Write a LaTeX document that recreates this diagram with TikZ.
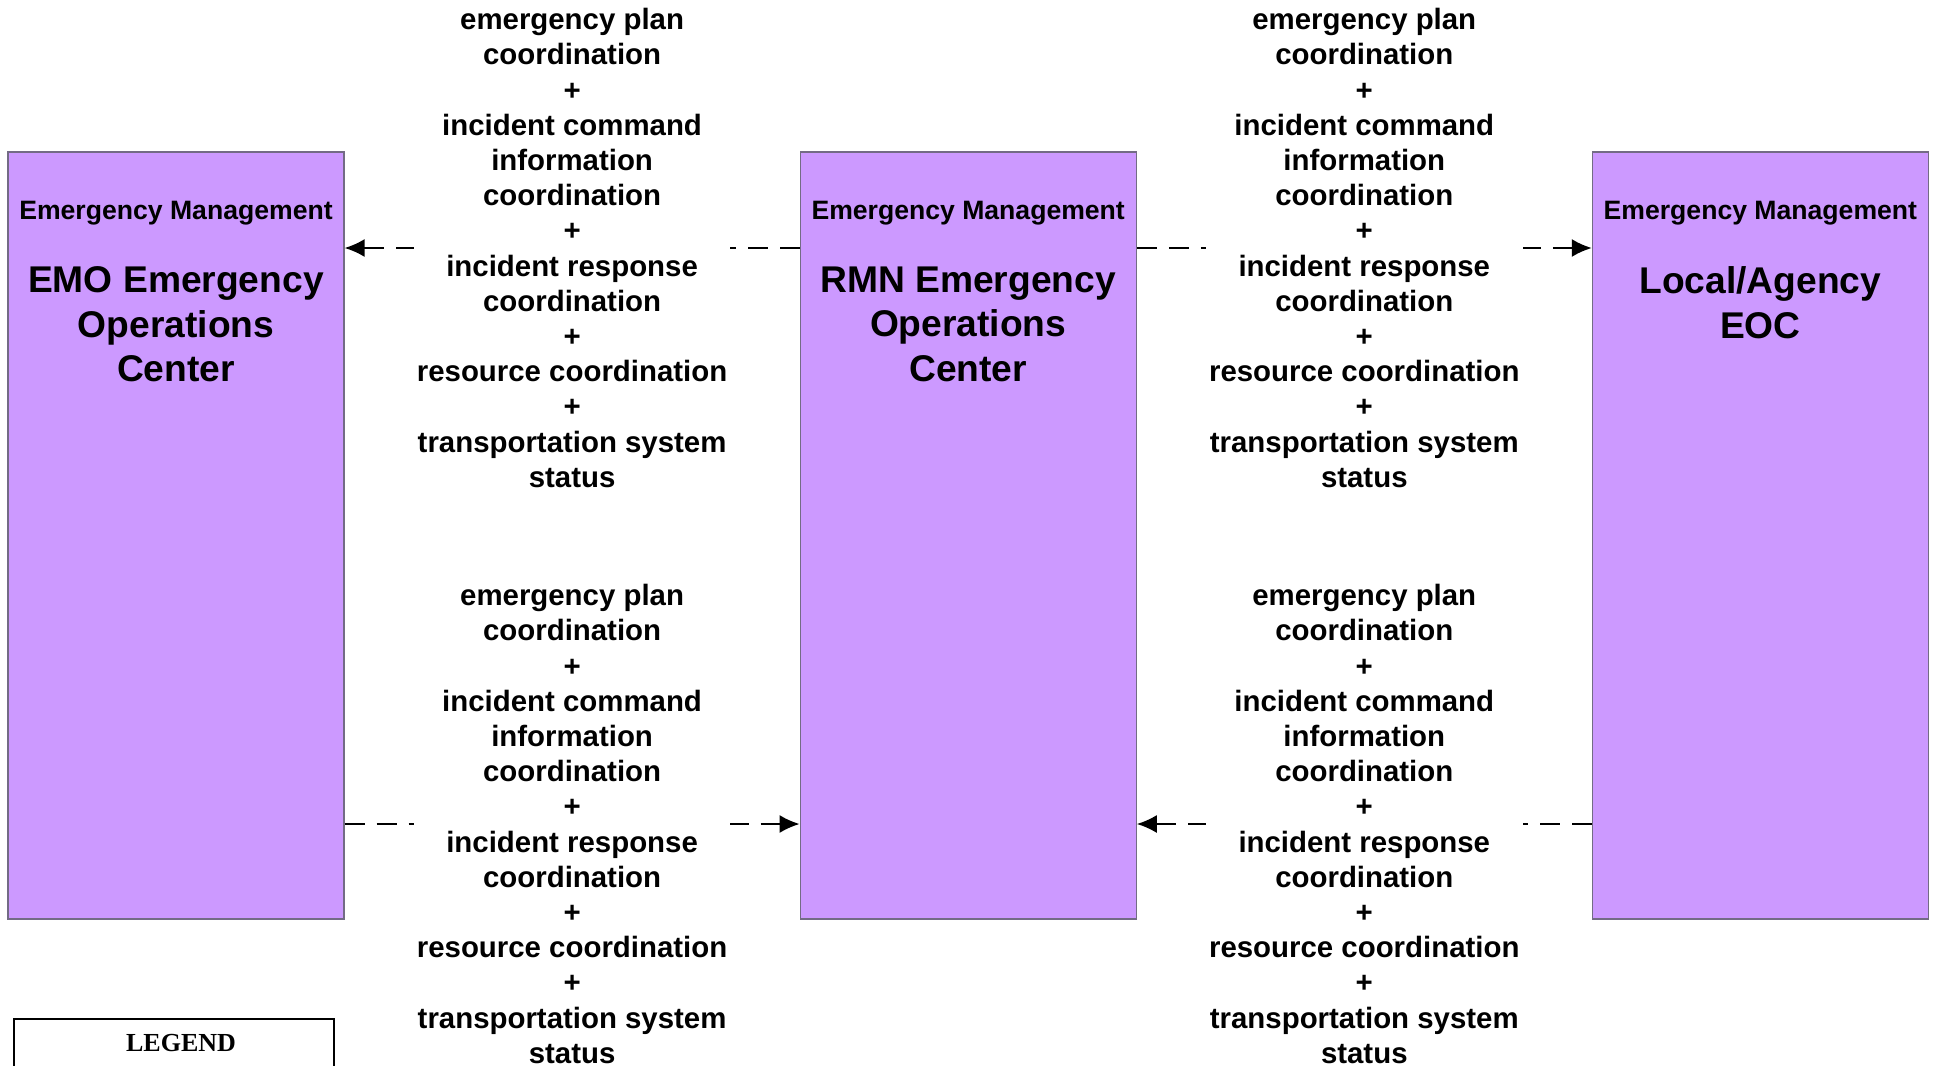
\documentclass[tikz,border=0pt]{standalone}
\usepackage{fontspec}
\setmainfont{Liberation Sans}
\newfontfamily\legendfont{Liberation Serif}
\usepackage{tikz}
\usetikzlibrary{arrows.meta}
\usetikzlibrary{positioning}
\tikzset{eoc/.style = {draw=mborder, fill=mpurple, line width=0.6pt,
                       minimum width=168pt, minimum height=383.5pt, inner sep=0pt},
         eoccat/.style = {font=\bfseries\fontsize{13.3}{16}\selectfont, inner sep=0pt},
         eoctitle/.style = {font=\bfseries\fontsize{18.6}{22.3}\selectfont, align=center, inner sep=0pt},
         flowlabel/.style = {fill=white, align=center, inner sep=1.5pt,
                             font=\bfseries\fontsize{14.7}{17.6}\selectfont},
         flow/.style = {line width=1pt, dash pattern=on 10pt off 6pt,
                        -{Latex[length=10pt,width=9pt]}}}
\definecolor{mpurple}{rgb}{0.8, 0.6, 1.0}
\definecolor{mborder}{rgb}{0.45, 0.42, 0.52}
\newcommand{\eocflows}{emergency plan\\coordination\\+\\incident command\\information\\coordination\\+\\
  incident response\\coordination\\+\\resource coordination\\+\\transportation system\\status}

\begin{document}
\begin{tikzpicture}[x=0.5pt, y=-0.5pt]
    \useasboundingbox (0, 0) rectangle (1940, 1066);

    \node [eoc] (emo) at (176, 535.5) {};
    \node [eoc, right=227.5pt of emo] (rmn) {};
    \node [eoc, right=227.5pt of rmn] (local) {};

    \node [eoccat, below=24.5pt of emo.north] (emocat) {Emergency Management};
    \node [eoctitle, below=20.5pt of emocat] (emotitle) {EMO Emergency\\Operations\\Center};
    \node [eoccat, below=24.5pt of rmn.north] (rmncat) {Emergency Management};
    \node [eoctitle, below=20.5pt of rmncat] (rmntitle) {RMN Emergency\\Operations\\Center};
    \node [eoccat, below=24.5pt of local.north] (localcat) {Emergency Management};
    \node [eoctitle, below=20.5pt of localcat] (localtitle) {Local/Agency\\EOC};

    \coordinate (toprow) at (0, 248);
    \coordinate (botrow) at (0, 824);

    \draw [flow] (rmn.west |- toprow) -- node [flowlabel] (flowa) {\eocflows} (emo.east |- toprow);
    \draw [flow] (rmn.east |- toprow) -- node [flowlabel] (flowb) {\eocflows} (local.west |- toprow);
    \draw [flow] (emo.east |- botrow) -- node [flowlabel] (flowc) {\eocflows} (rmn.west |- botrow);
    \draw [flow] (local.west |- botrow) -- node [flowlabel] (flowd) {\eocflows} (rmn.east |- botrow);

    % legend, cut off by the page edge
    \draw [line width=1.2pt] (14, 1019) rectangle (334, 1120);
    \node [font=\legendfont\bfseries\fontsize{13}{15}\selectfont, inner sep=0pt] (legend) at (181, 1043) {LEGEND};
  \end{tikzpicture}
\end{document}
